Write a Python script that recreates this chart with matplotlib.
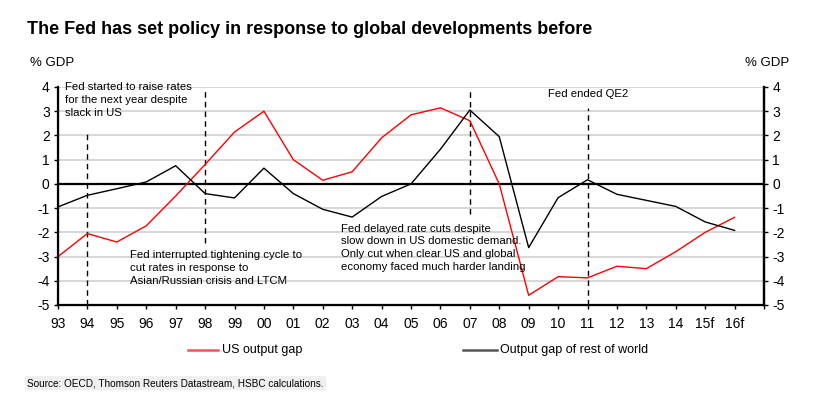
import matplotlib
matplotlib.use("Agg")
import matplotlib.pyplot as plt
from matplotlib.lines import Line2D

plt.rcParams['font.family'] = ['Liberation Sans', 'DejaVu Sans']

years = ['93', '94', '95', '96', '97', '98', '99', '00', '01', '02', '03', '04',
         '05', '06', '07', '08', '09', '10', '11', '12', '13', '14', '15f', '16f']
us_gap = [-3.0, -2.05, -2.4, -1.73, -0.5, 0.8, 2.14, 3.0, 1.0, 0.15, 0.5, 1.9,
          2.85, 3.14, 2.61, 0.0, -4.6, -3.83, -3.88, -3.4, -3.5, -2.8, -2.0, -1.38]
row_gap = [-0.95, -0.47, -0.2, 0.08, 0.75, -0.4, -0.58, 0.65, -0.4, -1.05, -1.37, -0.52,
           0.0, 1.43, 3.05, 1.95, -2.63, -0.57, 0.17, -0.43, -0.68, -0.93, -1.57, -1.92]
y_ticks = [-5, -4, -3, -2, -1, 0, 1, 2, 3, 4]
# event markers: (year index, top, bottom)
events = [(1, 2.2, -5.0), (5, 3.95, -2.45), (14, 3.95, -1.25), (18, 3.15, -5.0)]

fig = plt.figure(figsize=(8.25, 4.18), dpi=100)
ax = fig.add_axes([58/825, 1-305/418, (764-58)/825, (305-87)/418])

x = list(range(len(years)))
for yv in y_ticks:
    if yv not in (0, -5):
        ax.axhline(yv, color='#d4d4d4', lw=1.3, zorder=0)
ax.axhline(0, color='black', lw=1.6, zorder=1)

ax.plot(x, us_gap, color='#ff0000', lw=1.0, zorder=3)
ax.plot(x, row_gap, color='black', lw=1.0, zorder=3)

for xi, top, bot in events:
    ax.plot([xi, xi], [bot, top], color='black', lw=1.0, ls=(0, (4, 3)), zorder=2)

ax.set_xlim(0, 24)
ax.set_ylim(-5, 4)
ax.set_xticks(range(25))
ax.set_xticklabels(years + [''])
ax.set_yticks(y_ticks)
ax.set_yticklabels([str(v) for v in y_ticks])
ax.spines['top'].set_visible(False)
for s in ['left', 'right', 'bottom']:
    ax.spines[s].set_linewidth(1.6)
ax.tick_params(axis='both', labelsize=10, length=3, width=1, direction='out', pad=3)
ax.tick_params(axis='x', pad=6)

ax2 = ax.twinx()
ax2.set_ylim(-5, 4)
ax2.set_yticks(y_ticks)
ax2.set_yticklabels([str(v) for v in y_ticks])
ax2.spines['top'].set_visible(False)
ax2.spines['right'].set_linewidth(1.6)
ax2.tick_params(axis='y', labelsize=10, length=3, width=1, pad=3)

fs = 8.2
ls = 1.35
ax.text(0.24, 4.2, 'Fed started to raise rates\nfor the next year despite\nslack in US',
        fontsize=fs, va='top', ha='left', linespacing=ls, clip_on=False)
ax.text(2.45, -2.75, 'Fed interrupted tightening cycle to\ncut rates in response to\nAsian/Russian crisis and LTCM',
        fontsize=fs, va='top', ha='left', linespacing=ls)
ax.text(9.62, -1.64, 'Fed delayed rate cuts despite\nslow down in US domestic demand.\nOnly cut when clear US and global\neconomy faced much harder landing',
        fontsize=fs, va='top', ha='left', linespacing=ls)
ax.text(16.67, 3.7, 'Fed ended QE2', fontsize=fs, va='center', ha='left')

fig.text(27/825, 1-30/418, 'The Fed has set policy in response to global developments before',
         fontsize=13, fontweight='bold', va='center', ha='left')
fig.text(30/825, 1-63/418, '% GDP', fontsize=9.5, va='center', ha='left')
fig.text(745/825, 1-63/418, '% GDP', fontsize=9.5, va='center', ha='left')

ly = 1-350/418
fig.add_artist(Line2D([188/825, 218/825], [ly, ly], color='#ff5050', lw=1.8))
fig.text(222/825, ly, 'US output gap', fontsize=9, va='center', ha='left')
fig.add_artist(Line2D([463/825, 497/825], [ly, ly], color='#555555', lw=1.8))
fig.text(500/825, ly, 'Output gap of rest of world', fontsize=9, va='center', ha='left')

fig.text(27/825, 1-383/418, 'Source: OECD, Thomson Reuters Datastream, HSBC calculations.',
         fontsize=7.2, va='center', ha='left',
         bbox=dict(facecolor='#f0f0f0', edgecolor='none', pad=1.5))

fig.savefig('out.png', dpi=100)
